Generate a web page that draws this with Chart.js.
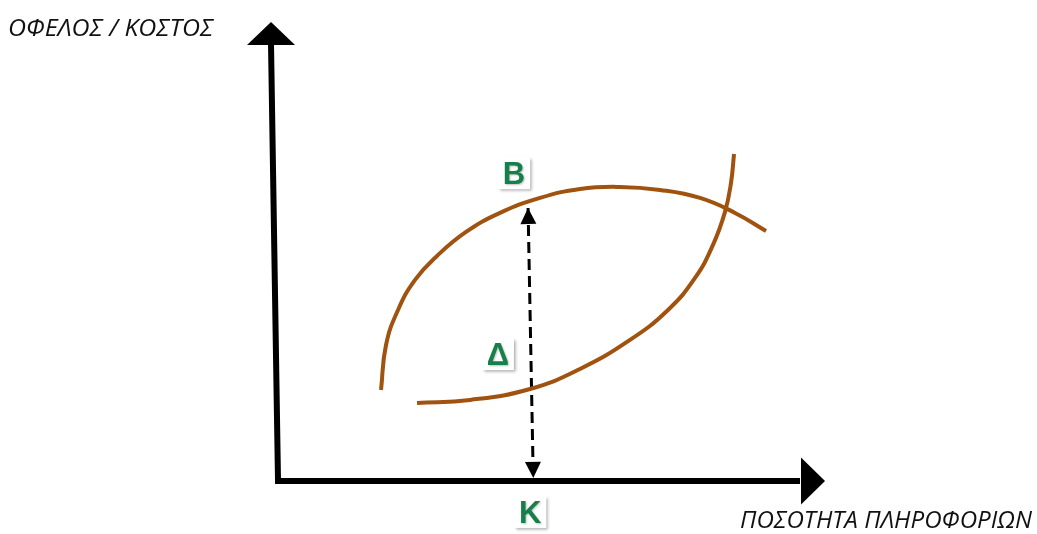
<!DOCTYPE html>
<html>
<head>
<meta charset="utf-8">
<script src="https://cdn.jsdelivr.net/npm/chart.js@4.4.1/dist/chart.umd.min.js"></script>
<style>
  html, body { margin: 0; padding: 0; background: #fff; }
  #chart { display: block; }
</style>
</head>
<body>
<canvas id="chart" width="1037" height="534"></canvas>
<script>
// curves (axis units: 0..100 on both axes)
const benefitX = [19.73, 20.69, 22.99, 26.25, 30.46, 36.02, 42.53, 50.19, 57.85, 65.52, 73.18, 80.84, 87.55, 93.49];
const benefitY = [20.87, 31.19, 39.22, 46.10, 51.61, 57.11, 61.47, 64.91, 66.97, 67.43, 66.74, 64.91, 61.47, 57.34];
const costX = [26.63, 36.78, 48.28, 57.85, 67.43, 74.71, 79.89, 83.33, 85.63, 86.78, 87.36];
const costY = [17.89, 18.58, 21.10, 25.69, 32.34, 39.22, 46.56, 54.13, 61.70, 68.35, 75.00];
const gapX = [47.9, 48.9];
const gapY = [62.6, 0.7];
const pointLabels = ['Β', 'Δ', 'Κ'];
const pointLabelX = [45.2, 42.1, 48.3];
const pointLabelY = [70.6, 29.1, -7.1];
const axisMax = 100;
const yTitle = 'ΟΦΕΛΟΣ / ΚΟΣΤΟΣ';
const xTitle = 'ΠΟΣΟΤΗΤΑ ΠΛΗΡΟΦΟΡΙΩΝ';

const toPoints = (xs, ys) => xs.map((x, i) => ({ x: x, y: ys[i] }));

const BROWN = '#a0520f';
const GREEN = '#17804a';

const drawArrow = (ctx, tipX, tipY, fromX, fromY, len, half) => {
    const a = Math.atan2(tipY - fromY, tipX - fromX);
    const bx = tipX - len * Math.cos(a);
    const by = tipY - len * Math.sin(a);
    ctx.beginPath();
    ctx.moveTo(tipX, tipY);
    ctx.lineTo(bx + half * Math.sin(a), by - half * Math.cos(a));
    ctx.lineTo(bx - half * Math.sin(a), by + half * Math.cos(a));
    ctx.closePath();
    ctx.fill();
};

const fitText = (ctx, text, left, baseline, width) => {
    const w = ctx.measureText(text).width;
    ctx.save();
    ctx.translate(left, baseline);
    ctx.scale(width / w, 1);
    ctx.fillText(text, 0, 0);
    ctx.restore();
};

const diagramPlugin = {
    id: 'diagram',
    beforeDatasetsDraw(chart) {
        const ctx = chart.ctx;
        const xs = chart.scales.x, ys = chart.scales.y;
        const ox = xs.getPixelForValue(0), oy = ys.getPixelForValue(0);
        const xe = xs.getPixelForValue(axisMax), ye = ys.getPixelForValue(axisMax);
        const lean = -7;
        ctx.save();
        ctx.strokeStyle = '#000';
        ctx.fillStyle = '#000';
        ctx.lineWidth = 6;
        ctx.lineJoin = 'miter';
        ctx.beginPath();
        ctx.moveTo(ox + lean, ye);
        ctx.lineTo(ox, oy);
        ctx.lineTo(xe, oy);
        ctx.stroke();
        drawArrow(ctx, ox + lean, ye - 23, ox + lean, ye, 23, 24);
        drawArrow(ctx, xe + 25, oy, xe, oy, 24, 23.5);

        ctx.font = 'italic 24px "Open Sans"';
        ctx.fillStyle = '#111';
        ctx.textBaseline = 'alphabetic';
        fitText(ctx, yTitle, 8, 36, 205);
        fitText(ctx, xTitle, 740, 528, 292);
        ctx.restore();
    },
    afterDatasetsDraw(chart) {
        const ctx = chart.ctx;
        const xs = chart.scales.x, ys = chart.scales.y;
        ctx.save();
        ctx.fillStyle = '#000';
        const t = { x: xs.getPixelForValue(gapX[0]), y: ys.getPixelForValue(gapY[0]) };
        const b = { x: xs.getPixelForValue(gapX[1]), y: ys.getPixelForValue(gapY[1]) };
        drawArrow(ctx, t.x, t.y, b.x, b.y, 16, 8);
        drawArrow(ctx, b.x, b.y, t.x, t.y, 16, 8);

        ctx.font = 'bold 31px "Liberation Sans"';
        ctx.textAlign = 'center';
        ctx.textBaseline = 'alphabetic';
        pointLabels.forEach((txt, i) => {
            const px = xs.getPixelForValue(pointLabelX[i]);
            const py = ys.getPixelForValue(pointLabelY[i]);
            const w = ctx.measureText(txt).width;
            ctx.save();
            ctx.shadowColor = 'rgba(0,0,0,0.35)';
            ctx.shadowBlur = 3;
            ctx.shadowOffsetX = 2;
            ctx.shadowOffsetY = 2;
            ctx.fillStyle = '#fff';
            ctx.fillRect(px - w / 2 - 5, py - 16, w + 10, 32);
            ctx.restore();
            ctx.save();
            ctx.shadowColor = 'rgba(0,0,0,0.25)';
            ctx.shadowBlur = 2;
            ctx.shadowOffsetX = 1;
            ctx.shadowOffsetY = 1;
            ctx.fillStyle = GREEN;
            ctx.fillText(txt, px, py + 11);
            ctx.restore();
        });
        ctx.restore();
    }
};

new Chart(document.getElementById('chart'), {
    type: 'scatter',
    data: {
        datasets: [
            {
                label: 'benefit',
                data: toPoints(benefitX, benefitY),
                showLine: true,
                tension: 0.45,
                borderColor: BROWN,
                borderWidth: 4,
                pointRadius: 0,
                fill: false
            },
            {
                label: 'cost',
                data: toPoints(costX, costY),
                showLine: true,
                tension: 0.45,
                borderColor: BROWN,
                borderWidth: 4,
                pointRadius: 0,
                fill: false
            },
            {
                label: 'gap',
                data: toPoints(gapX, gapY),
                showLine: true,
                borderColor: '#000',
                borderWidth: 3,
                borderDash: [11, 6],
                pointRadius: 0,
                fill: false
            }
        ]
    },
    options: {
        responsive: false,
        animation: false,
        layout: { padding: 0 },
        plugins: {
            legend: { display: false },
            tooltip: { enabled: false }
        },
        scales: {
            x: { type: 'linear', display: false, min: -53.26, max: 145.4 },
            y: { type: 'linear', display: false, min: -12.16, max: 110.3 }
        }
    },
    plugins: [diagramPlugin]
});
</script>
</body>
</html>
